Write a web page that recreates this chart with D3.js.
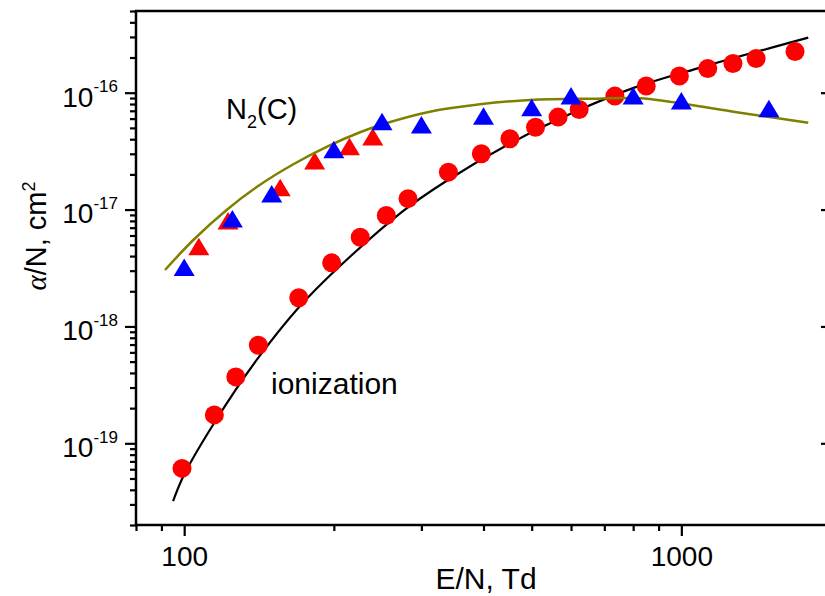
<!DOCTYPE html>
<html>
<head>
<meta charset="utf-8">
<script src="https://cdn.jsdelivr.net/npm/d3@7"></script>
<style>
  body { margin: 0; background: #fff; }
  svg { display: block; font-family: 'Liberation Sans', Arial, sans-serif; }
</style>
</head>
<body>
<svg id="chart" width="825" height="596"></svg>
<script>
// ionization coefficient, red circles
const ionEN = [99, 115, 127, 141, 170, 198, 226, 255, 282, 340, 396, 452, 509, 565, 623, 735, 850, 991, 1130, 1270, 1414, 1693];
const ionAlpha = [6.1e-20, 1.75e-19, 3.7e-19, 6.9e-19, 1.76e-18, 3.5e-18, 5.8e-18, 8.9e-18, 1.24e-17, 2.09e-17, 3.0e-17,
  4.04e-17, 5.07e-17, 6.18e-17, 7.19e-17, 9.35e-17, 1.14e-16, 1.39e-16, 1.61e-16, 1.78e-16, 1.96e-16, 2.25e-16];
// N2(C) excitation, red triangles
const redTriEN = [107, 122.5, 156, 183, 215, 239.5];
const redTriAlpha = [4.8e-18, 8.0e-18, 1.54e-17, 2.6e-17, 3.44e-17, 4.18e-17];
// N2(C) excitation, blue triangles
const blueTriEN = [100, 125, 150, 200, 250, 300, 400, 500, 600, 800, 1000, 1500];
const blueTriAlpha = [3.2e-18, 8.3e-18, 1.36e-17, 3.25e-17, 5.65e-17, 5.3e-17, 6.3e-17, 7.44e-17, 9.35e-17, 9.35e-17, 8.47e-17, 7.29e-17];
// calculated curves
const ionCurveEN = [95, 100, 115, 141, 177, 273, 340, 454, 627, 802, 1092, 1800];
const ionCurveAlpha = [3.2e-20, 5.4e-20, 1.5e-19, 5.4e-19, 1.75e-18, 9.4e-18, 1.8e-17, 3.7e-17, 7.2e-17, 1.1e-16, 1.64e-16, 2.96e-16];
const n2cCurveEN = [91.5, 104.3, 121.7, 142.1, 165.8, 193.4, 225.8, 255.5, 312, 393.5, 496, 676, 826, 934, 1272, 1800];
const n2cCurveAlpha = [3.04e-18, 5.49e-18, 9.93e-18, 1.63e-17, 2.44e-17, 3.44e-17, 4.59e-17, 5.5e-17, 6.88e-17, 7.96e-17,
  8.66e-17, 8.89e-17, 8.96e-17, 8.46e-17, 6.88e-17, 5.53e-17];

const xMajor = [100, 1000];
const xMinor = [80, 90, 200, 300, 400, 500, 600, 700, 800, 900, 2000];
const yMajor = [1e-19, 1e-18, 1e-17, 1e-16];

const margin = { top: 11, left: 136 };
const innerWidth = 695;
const innerHeight = 514;

const svg = d3.select('#chart');
const plot = svg.append('g').attr('transform', `translate(${margin.left},${margin.top})`);

const x = d3.scaleLog().domain([80, 2000]).range([0, innerWidth]);
const y = d3.scaleLog().domain([2e-20, 5e-16]).range([innerHeight, 0]);

const yMinor = [];
[-20, -19, -18, -17, -16].forEach(e => {
  for (let m = 2; m <= 9; m++) {
    const v = m * Math.pow(10, e);
    if (v <= 5e-16) yMinor.push(v);
  }
});

function styleAxis(g) {
  g.selectAll('path').remove();
  g.selectAll('line').attr('stroke', '#000').attr('stroke-width', 2.2);
}
function noLabels(g) {
  g.selectAll('text').remove();
}

// bottom
plot.append('g').attr('transform', `translate(0,${innerHeight})`)
  .call(d3.axisBottom(x).tickValues(xMinor).tickSize(6))
  .call(styleAxis).call(noLabels);
const xAx = plot.append('g').attr('transform', `translate(0,${innerHeight})`)
  .call(d3.axisBottom(x).tickValues(xMajor).tickSize(11).tickFormat(d3.format('d')))
  .call(styleAxis);
xAx.selectAll('text')
  .attr('y', 41).attr('dy', 0)
  .attr('fill', '#000')
  .style('font-size', '28px')
  .style('font-family', "'Liberation Sans', Arial, sans-serif");

// left
plot.append('g')
  .call(d3.axisLeft(y).tickValues(yMinor).tickSize(6))
  .call(styleAxis).call(noLabels);
const yAx = plot.append('g')
  .call(d3.axisLeft(y).tickValues(yMajor).tickSize(11))
  .call(styleAxis).call(noLabels);
yAx.selectAll('.tick').append('text')
  .attr('x', -18)
  .attr('y', 13.4)
  .attr('text-anchor', 'end')
  .attr('fill', '#000')
  .style('font-size', '28px')
  .style('font-family', "'Liberation Sans', Arial, sans-serif")
  .each(function (d) {
    const t = d3.select(this);
    const exp = Math.round(Math.log10(d));
    t.append('tspan').text('10');
    t.append('tspan').attr('dy', -14.5).style('font-size', '17px').text(`-${Math.abs(exp)}`);
  });

// right (inward ticks)
plot.append('g').attr('transform', `translate(${innerWidth},0)`)
  .call(d3.axisRight(y).tickValues(yMinor).tickSize(-6))
  .call(styleAxis).call(noLabels);
plot.append('g').attr('transform', `translate(${innerWidth},0)`)
  .call(d3.axisRight(y).tickValues(yMajor).tickSize(-10))
  .call(styleAxis).call(noLabels);

// frame
plot.append('rect')
  .attr('width', innerWidth)
  .attr('height', innerHeight)
  .attr('fill', 'none')
  .attr('stroke', '#000')
  .attr('stroke-width', 2.5);

// curves and markers, drawn in the reference's stacking order
const line = d3.line()
  .x(d => x(d[0]))
  .y(d => y(d[1]))
  .curve(d3.curveCatmullRom.alpha(0.5));
const triPath = 'M0,-9L10.5,8.5L-10.5,8.5Z';

plot.append('path')
  .datum(d3.zip(ionCurveEN, ionCurveAlpha))
  .attr('d', line)
  .attr('fill', 'none')
  .attr('stroke', '#000')
  .attr('stroke-width', 2.2);
plot.append('g').selectAll('circle')
  .data(d3.zip(ionEN, ionAlpha))
  .join('circle')
  .attr('cx', d => x(d[0]))
  .attr('cy', d => y(d[1]))
  .attr('r', 9.5)
  .attr('fill', '#ff0000');
plot.append('g').selectAll('path')
  .data(d3.zip(redTriEN, redTriAlpha))
  .join('path')
  .attr('d', triPath)
  .attr('transform', d => `translate(${x(d[0])},${y(d[1])})`)
  .attr('fill', '#ff0000');
plot.append('path')
  .datum(d3.zip(n2cCurveEN, n2cCurveAlpha))
  .attr('d', line)
  .attr('fill', 'none')
  .attr('stroke', '#808000')
  .attr('stroke-width', 2.5);
plot.append('g').selectAll('path')
  .data(d3.zip(blueTriEN, blueTriAlpha))
  .join('path')
  .attr('d', triPath)
  .attr('transform', d => `translate(${x(d[0])},${y(d[1])})`)
  .attr('fill', '#0000ff');

// annotations
const n2c = svg.append('text')
  .attr('x', 226)
  .attr('y', 119)
  .attr('fill', '#000')
  .style('font-size', '29px');
n2c.append('tspan').text('N');
n2c.append('tspan').attr('dy', 9).style('font-size', '18px').text('2');
n2c.append('tspan').attr('dy', -9).text('(C)');

svg.append('text')
  .attr('x', 271)
  .attr('y', 394)
  .attr('fill', '#000')
  .style('font-size', '30px')
  .text('ionization');

// axis titles
svg.append('text')
  .attr('x', 486)
  .attr('y', 589)
  .attr('text-anchor', 'middle')
  .attr('fill', '#000')
  .style('font-size', '30px')
  .text('E/N, Td');

const yTitle = svg.append('text')
  .attr('transform', 'translate(46,236) rotate(-90)')
  .attr('text-anchor', 'middle')
  .attr('fill', '#000')
  .style('font-size', '29px');
yTitle.append('tspan').style('font-family', "'Liberation Serif', serif").style('font-style', 'italic').text('α');
yTitle.append('tspan').text('/N, cm');
yTitle.append('tspan').attr('dy', -11).style('font-size', '18px').text('2');
</script>
</body>
</html>
